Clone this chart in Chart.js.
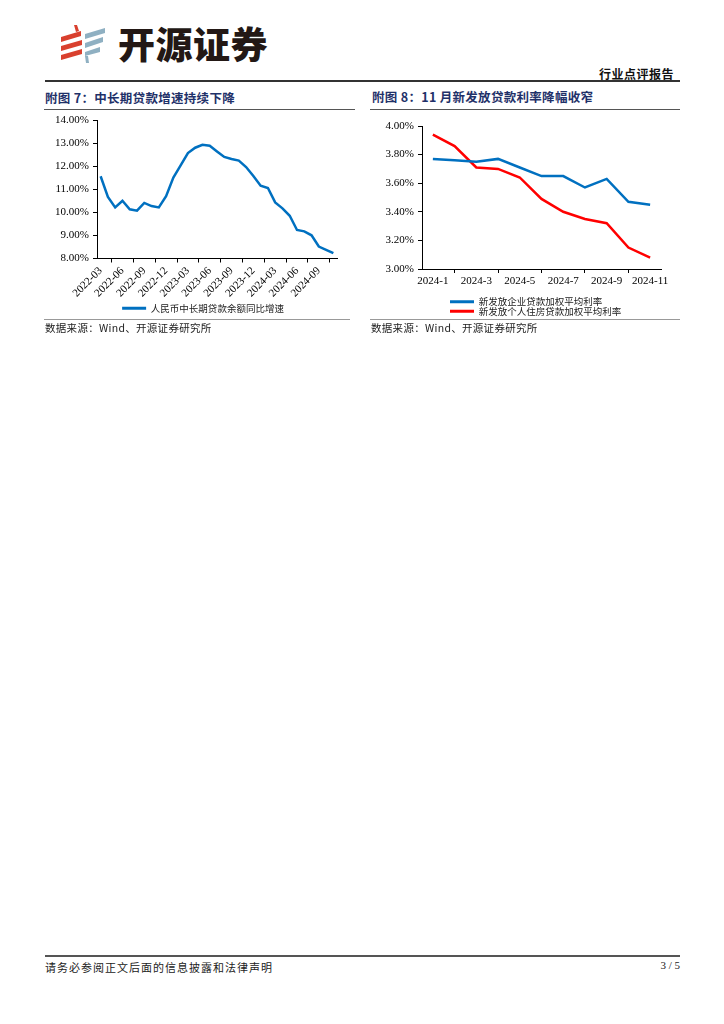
<!DOCTYPE html>
<html>
<head>
<meta charset="utf-8">
<script src="https://cdn.jsdelivr.net/npm/chart.js@4.4.1/dist/chart.umd.min.js"></script>
<style>
  body { margin: 0; background: #fff; }
  #page { position: relative; width: 724px; height: 1024px; overflow: hidden; font-family: "Noto Sans CJK SC", sans-serif; color: #222; }
  .abs { position: absolute; white-space: nowrap; }
  .rule { position: absolute; }
  .title { font-size: 12.5px; font-weight: bold; color: #1f3169; letter-spacing: 0.3px; line-height: 16px; }
  .src { font-size: 10.5px; letter-spacing: 0.3px; line-height: 12px; }
</style>
</head>
<body>
<div id="page">
  <!-- logo -->
  <svg class="abs" style="left:55px;top:22px" width="56" height="44" viewBox="0 0 56 44">
    <polygon points="19,3 22,3 24,9 21,10" fill="#d9402e"/>
    <polygon points="6,15 26,9 26,14 6,20" fill="#d9402e"/>
    <polygon points="6,24 27,18 27,23 6,29" fill="#d9402e"/>
    <polygon points="6,33 27,27 27,32 6,38" fill="#d9402e"/>
    <polygon points="30,12 50,6 50,11 30,17" fill="#8fb0c2"/>
    <polygon points="30,21 48,15 48,20 30,26" fill="#8fb0c2"/>
    <polygon points="30,30 45,25 45,30 30,34" fill="#8fb0c2"/>
    <polygon points="30,34 33,34 34,41 31,41" fill="#8fb0c2"/>
  </svg>
  <div class="abs" style="left:118px;top:24px;font-size:37px;line-height:38px;font-weight:900;color:#231815;letter-spacing:0.5px">开源证券</div>
  <div class="abs" style="right:50px;top:65px;font-size:12px;font-weight:bold;color:#111;letter-spacing:0.5px">行业点评报告</div>
  <div class="rule" style="left:45px;top:80px;width:635px;height:1.5px;background:#333"></div>

  <div class="abs title" style="left:45px;top:90px">附图 7：中长期贷款增速持续下降</div>
  <div class="abs title" style="left:372px;top:89px">附图 8：11 月新发放贷款利率降幅收窄</div>
  <div class="rule" style="left:44px;top:108.5px;width:311px;height:1px;background:#555"></div>
  <div class="rule" style="left:370px;top:108.5px;width:310px;height:1px;background:#555"></div>

  <div class="abs" style="left:53px;top:110px;width:302px;height:213px"><canvas id="chart-loan"></canvas></div>
  <div class="abs" style="left:365px;top:110px;width:320px;height:216px"><canvas id="chart-rate"></canvas></div>

  <div class="rule" style="left:44px;top:318.5px;width:306px;height:1.5px;background:#999"></div>
  <div class="rule" style="left:370px;top:318.5px;width:310px;height:1.5px;background:#999"></div>
  <div class="abs src" style="left:45px;top:322px">数据来源：Wind、开源证券研究所</div>
  <div class="abs src" style="left:371px;top:322px">数据来源：Wind、开源证券研究所</div>

  <div class="rule" style="left:45px;top:955px;width:635px;height:1.5px;background:#555"></div>
  <div class="abs" style="left:45px;top:959px;font-size:11px;letter-spacing:1px;color:#222">请务必参阅正文后面的信息披露和法律声明</div>
  <div class="abs" style="right:44px;top:959px;font-size:11px;font-family:'Liberation Serif',serif;color:#222">3 / 5</div>
</div>

<script>
// Chart 7 data: monthly yoy growth of mid/long-term RMB loans (%)
const loanMonths = [
  '2022-03', '2022-04', '2022-05', '2022-06', '2022-07', '2022-08', '2022-09', '2022-10', '2022-11', '2022-12',
  '2023-01', '2023-02', '2023-03', '2023-04', '2023-05', '2023-06', '2023-07', '2023-08', '2023-09', '2023-10', '2023-11', '2023-12',
  '2024-01', '2024-02', '2024-03', '2024-04', '2024-05', '2024-06', '2024-07', '2024-08', '2024-09', '2024-10', '2024-11'
];
const loanGrowth = [
  11.58, 10.68, 10.22, 10.51, 10.14, 10.08, 10.42, 10.28, 10.22, 10.71,
  11.52, 12.05, 12.59, 12.82, 12.95, 12.91, 12.66, 12.42, 12.33, 12.26, 11.98, 11.59,
  11.17, 11.07, 10.44, 10.18, 9.86, 9.24, 9.18, 9.01, 8.52, 8.38, 8.23
];
const loanLabel = '人民币中长期贷款余额同比增速';

// Chart 8 data: weighted average rate of new loans in 2024 (%)
const rateMonths = ['2024-1', '2024-2', '2024-3', '2024-4', '2024-5', '2024-6', '2024-7', '2024-8', '2024-9', '2024-10', '2024-11'];
const corpRate = [3.77, 3.76, 3.75, 3.77, 3.71, 3.65, 3.65, 3.57, 3.63, 3.47, 3.45];
const mortgageRate = [3.94, 3.86, 3.71, 3.70, 3.64, 3.49, 3.40, 3.35, 3.32, 3.15, 3.08];
const corpLabel = '新发放企业贷款加权平均利率';
const mortgageLabel = '新发放个人住房贷款加权平均利率';

const BLUE = '#0070c0';
const RED = '#ff0000';
const tickFont = { family: "'Liberation Serif', 'Times New Roman', serif", size: 11 };
const legendFont = { family: "'Noto Sans CJK SC', sans-serif", size: 9.5, lineHeight: 1 };

// legend line sample: filled thin box, no stroke
function lineLegend(chart) {
    return Chart.defaults.plugins.legend.labels.generateLabels(chart).map(l => ({ ...l, lineWidth: 0 }));
}

// nudge the legend box sideways after layout
function legendShift(dx) {
    return {
        id: 'legendShift',
        afterLayout(chart) {
            chart.legend.left += dx;
            chart.legend.right += dx;
        },
    };
}

function axisX(labelsArr, step, rotate, height) {
    return {
        type: 'category',
        offset: true,
        grid: { offset: true, drawOnChartArea: false, drawTicks: true, tickLength: 4, color: '#000', lineWidth: 1 },
        border: { color: '#000', width: 1 },
        ticks: {
            autoSkip: false,
            maxRotation: rotate,
            minRotation: rotate,
            padding: 2,
            color: '#000',
            font: tickFont,
            callback: (v, i) => (i % step === 0 ? labelsArr[i] : null),
        },
        afterFit: s => { s.height = height; },
    };
}

function axisY(min, max, step, width) {
    return {
        min: min,
        max: max,
        grid: { drawOnChartArea: false, drawTicks: true, tickLength: 4, color: '#000', lineWidth: 1 },
        border: { color: '#000', width: 1 },
        ticks: {
            stepSize: step,
            padding: 4,
            color: '#000',
            font: tickFont,
            callback: v => v.toFixed(2) + '%',
        },
        afterFit: s => { s.width = width; },
    };
}

// Chart 7 (line)
new Chart(document.getElementById('chart-loan'), {
    type: 'line',
    data: {
        labels: loanMonths,
        datasets: [{
            label: loanLabel,
            data: loanGrowth,
            borderColor: BLUE,
            backgroundColor: BLUE,
            borderWidth: 2.5,
            pointRadius: 0,
            tension: 0,
        }],
    },
    options: {
        responsive: true,
        maintainAspectRatio: false,
        animation: false,
        layout: { padding: { top: 4, right: 18, left: 0, bottom: 0 } },
        plugins: {
            tooltip: { enabled: false },
            legend: {
                position: 'bottom',
                labels: { boxWidth: 24, boxHeight: 3, padding: 6, color: '#222', font: legendFont, generateLabels: lineLegend },
            },
        },
        scales: {
            x: axisX(loanMonths, 3, 45, 39),
            y: axisY(8, 14, 1, 44),
        },
    },
    plugins: [legendShift(8)],
});

// Chart 8 (two lines)
new Chart(document.getElementById('chart-rate'), {
    type: 'line',
    data: {
        labels: rateMonths,
        datasets: [{
            label: corpLabel,
            data: corpRate,
            borderColor: BLUE,
            backgroundColor: BLUE,
            borderWidth: 2.5,
            pointRadius: 0,
            tension: 0,
        }, {
            label: mortgageLabel,
            data: mortgageRate,
            borderColor: RED,
            backgroundColor: RED,
            borderWidth: 2.5,
            pointRadius: 0,
            tension: 0,
        }],
    },
    options: {
        responsive: true,
        maintainAspectRatio: false,
        animation: false,
        layout: { padding: { top: 16, right: 24, left: 0, bottom: 0 } },
        plugins: {
            tooltip: { enabled: false },
            legend: {
                position: 'bottom',
                fullSize: false,
                align: 'start',
                labels: { boxWidth: 24, boxHeight: 3, padding: 0, color: '#222', font: legendFont, generateLabels: lineLegend },
            },
        },
        scales: {
            x: axisX(rateMonths, 2, 0, 28),
            y: axisY(3, 4, 0.2, 57),
        },
    },
    plugins: [legendShift(28)],
});
</script>
</body>
</html>
